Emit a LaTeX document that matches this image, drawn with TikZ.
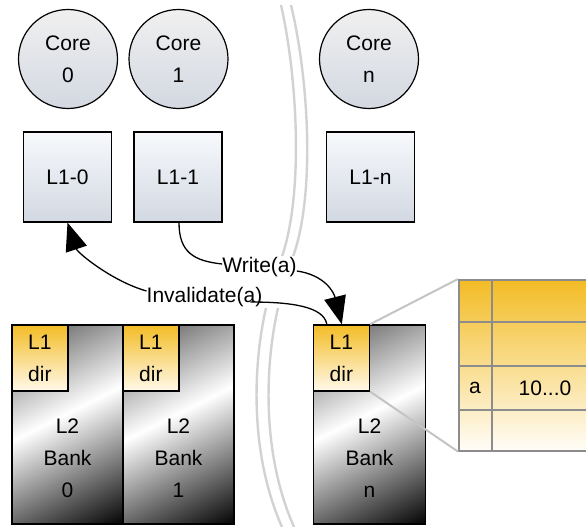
\documentclass[tikz,border=0pt]{standalone}
\usepackage{fontspec}
\setmainfont{Liberation Sans}
\usetikzlibrary{arrows.meta,calc}
\definecolor{metalgray}{HTML}{505050}
\definecolor{dirtop}{HTML}{F3BC25}
\definecolor{dirbot}{HTML}{FFF9EA}
\definecolor{coretop}{HTML}{F0F0F0}
\definecolor{corebot}{HTML}{D3D8E1}
\definecolor{boxtop}{HTML}{F7F9FC}
\definecolor{boxbot}{HTML}{D2D8E2}
\definecolor{tabtop}{HTML}{F3BC25}
\definecolor{tabbot}{HTML}{FFFDF8}
\definecolor{gridgray}{HTML}{8C8C8C}
\definecolor{zoomgray}{HTML}{C4C4C4}
\definecolor{sepgray}{HTML}{D2D2D2}
\pgfdeclarehorizontalshading{metal}{100bp}{color(0bp)=(metalgray); color(16bp)=(metalgray); color(47bp)=(white); color(84bp)=(black); color(100bp)=(black)}
\newcommand{\lblfont}{\fontsize{21}{32}\selectfont}
\tikzset{
  core/.style={circle, draw=black, line width=1.2pt, minimum size=99pt, inner sep=0pt, top color=coretop, bottom color=corebot, align=center, font=\lblfont},
  l1box/.style={rectangle, draw=black, line width=1.2pt, minimum width=88pt, minimum height=90pt, inner sep=0pt, top color=boxtop, bottom color=boxbot, font=\lblfont},
  bankbox/.style={rectangle, draw=black, line width=1.4pt, minimum width=111pt, minimum height=199pt, inner sep=0pt, shade, shading=metal, shading angle=-63.4},
  dirbox/.style={rectangle, draw=black, line width=1.2pt, minimum width=56pt, minimum height=66pt, inner sep=0pt, top color=dirtop, bottom color=dirbot, align=center, font=\lblfont, anchor=north west},
  banklbl/.style={align=center, font=\lblfont, inner sep=0pt},
  flowlbl/.style={fill=white, inner sep=1pt, font=\lblfont},
  conn/.style={draw=black, line width=1.3pt},
  bigtip/.style={-{Triangle[length=28pt,width=22pt]}},
  sepline/.style={draw=sepgray, line width=2.4pt},
  zoomline/.style={draw=zoomgray, line width=2pt},
  gridline/.style={draw=gridgray, line width=1.6pt},
  tabbox/.style={rectangle, draw=gridgray, line width=1.6pt, minimum width=160pt, minimum height=171pt, inner sep=0pt, top color=tabtop, bottom color=tabbot, anchor=north west},
  celltxt/.style={font=\lblfont, inner sep=0pt}
}
\begin{document}
\begin{tikzpicture}[x=1pt,y=-1pt]
\useasboundingbox (0,0) rectangle (586,527);
\clip (0,0) rectangle (586,527);
% separator arcs
\draw[sepline] (281,5) .. controls (298,80) and (304,200) .. (280,262);
\draw[sepline] (291,5) .. controls (309,80) and (316,200) .. (291,262);
\draw[sepline] (266,308) .. controls (254,360) and (248,450) .. (282,527);
\draw[sepline] (278,308) .. controls (266,360) and (260,450) .. (294,527);
% cores
\node[core] (c0) at (68,59) {Core\\0};
\node[core] (c1) at (178.5,59) {Core\\1};
\node[core] (cn) at (369,59) {Core\\n};
% L1 caches
\node[l1box] (l10) at (67.5,177) {L1-0};
\node[l1box] (l11) at (178,177) {L1-1};
\node[l1box] (l1n) at (370.5,177) {L1-n};
% banks
\node[bankbox] (b0) at (67.5,424.5) {};
\node[bankbox] (b1) at (178.5,424.5) {};
\node[bankbox, minimum width=112pt] (bn) at (369.5,424.5) {};
\node[dirbox] (d0) at (b0.north west) {L1\\dir};
\node[dirbox] (d1) at (b1.north west) {L1\\dir};
\node[dirbox] (dn) at (bn.north west) {L1\\dir};
\node[banklbl] (t0) at (67.5,458) {L2\\Bank\\0};
\node[banklbl] (t1) at (178.5,458) {L2\\Bank\\1};
\node[banklbl] (tn) at (369.5,458) {L2\\Bank\\n};
% zoom lines and table
\draw[zoomline] (dn.north east) -- (458,279) coordinate (tabnw);
\node[tabbox] (tab) at (tabnw) {};
\draw[zoomline] (dn.south east) -- (tab.south west);
\draw[gridline] ($(tab.north west)+(0,43)$) -- ($(tab.north east)+(0,43)$);
\draw[gridline] ($(tab.north west)+(0,87)$) -- ($(tab.north east)+(0,87)$);
\draw[gridline] ($(tab.north west)+(0,131)$) -- ($(tab.north east)+(0,131)$);
\draw[gridline] ($(tab.north west)+(34,0)$) -- ($(tab.south west)+(34,0)$);
\node[celltxt] (ca) at ($(tab.north west)+(17,109)$) {a};
\node[celltxt] (cv) at ($(tab.north west)+(87,109)$) {10...0};
% labels
\node[flowlbl] (wr) at (259.5,267) {Write(a)};
\node[flowlbl] (inv) at (204.5,297) {Invalidate(a)};
% connectors
\draw[conn] ($(l11.south)+(1,0)$) .. controls +(0,30) and +(-28,-3) .. ($(wr.west)+(1,-3)$);
\draw[conn,bigtip] ($(wr.east)+(-1,4)$) .. controls +(28,4) and +(-8,-32) .. ($(dn.north west)+(29,0)$);
\draw[conn] ($(dn.north west)+(14,0)$) .. controls +(-3,-18) and +(40,0) .. ($(inv.east)+(-13,5)$);
\draw[conn,bigtip] ($(inv.west)+(1,-6)$) .. controls +(-35,-10) and +(10,30) .. (l10.south);
\end{tikzpicture}
\end{document}
